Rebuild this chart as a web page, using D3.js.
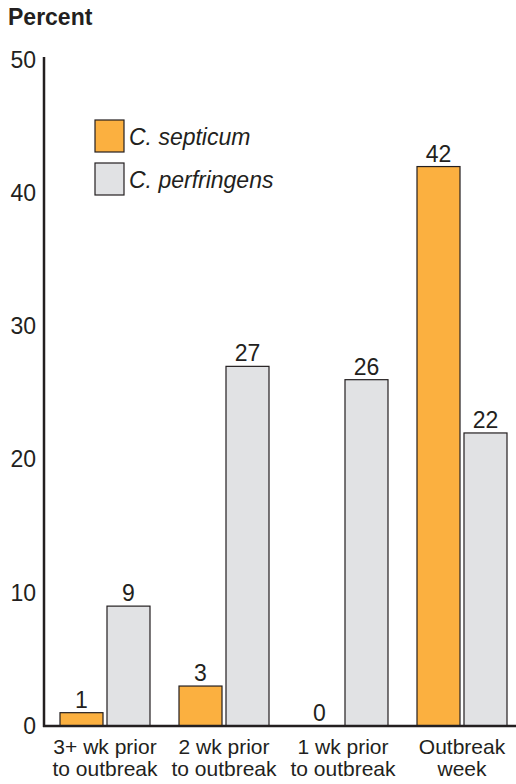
<!DOCTYPE html>
<html><head><meta charset="utf-8">
<script src="https://cdn.jsdelivr.net/npm/d3@7"></script>
<style>body{margin:0;background:#fff}svg{display:block}text{font-family:"Liberation Sans",Arial,sans-serif;fill:#231f20}</style>
</head><body>
<svg id="chart" width="516" height="784"></svg>
<script>
const categories = [["3+ wk prior","to outbreak"],["2 wk prior","to outbreak"],["1 wk prior","to outbreak"],["Outbreak","week"]];
const seriesNames = ["C. septicum","C. perfringens"];
const septicum = [1,3,0,42];
const perfringens = [9,27,26,22];
const yTicks = [0,10,20,30,40,50];
const colors = ["#fbb040","#e1e2e4"];

const svg = d3.select("#chart");
const catKeys = categories.map((c,i)=>i);
const x0 = d3.scaleBand().domain(catKeys).range([60,507]).paddingInner(0.2437).paddingOuter(0);
const x1 = d3.scaleBand().domain([0,1]).range([0,x0.bandwidth()]).paddingInner(0.085).paddingOuter(0);
const y = d3.scaleLinear().domain([0,50]).range([726,60]);

// y axis
const ya = svg.append("g").attr("transform","translate(44,0)")
  .call(d3.axisLeft(y).tickValues(yTicks).tickSize(0).tickSizeOuter(0).tickPadding(8));
ya.select(".domain").attr("stroke","#231f20").attr("stroke-width",2.5).attr("d","M0,"+(y(0)+1)+"V57");
ya.selectAll("text").style("font-size","23px").style("font-family","'Liberation Sans',Arial,sans-serif").attr("fill","#231f20");

// title
svg.append("text").attr("x",8).attr("y",25).text("Percent").style("font-size","23px").style("font-weight","bold");

const data = categories.map((c,i)=>({i, vals:[septicum[i], perfringens[i]]}));
const g = svg.append("g");
const grp = g.selectAll("g.grp").data(data).join("g").attr("transform",d=>`translate(${x0(d.i)},0)`);
grp.selectAll("rect").data(d=>d.vals.map((v,k)=>({v,k}))).join("rect")
  .attr("x",d=>x1(d.k)).attr("width",x1.bandwidth())
  .attr("y",d=>y(d.v)).attr("height",d=>y(0)-y(d.v))
  .attr("fill",d=>colors[d.k]).attr("stroke","#231f20").attr("stroke-width",1.2);
grp.selectAll("text.val").data(d=>d.vals.map((v,k)=>({v,k}))).join("text").attr("class","val")
  .attr("x",d=>x1(d.k)+x1.bandwidth()/2).attr("y",d=>y(d.v)-5)
  .attr("text-anchor","middle").style("font-size","23px").text(d=>d.v);

// baseline
svg.append("line").attr("x1",43).attr("x2",516).attr("y1",y(0)).attr("y2",y(0)).attr("stroke","#231f20").attr("stroke-width",2.5);

// x axis labels
const xa = svg.append("g").attr("transform",`translate(0,${y(0)})`)
  .call(d3.axisBottom(x0).tickSize(0).tickFormat(()=>""));
xa.select(".domain").remove();
xa.selectAll(".tick text").each(function(d){
  const t = d3.select(this).attr("y",28).attr("dy",0).style("font-size","21px").style("font-family","'Liberation Sans',Arial,sans-serif").attr("fill","#231f20");
  categories[d].forEach((line,j)=>t.append("tspan").attr("x",0).attr("dy",j===0?0:22).text(line));
});

// legend
const leg = svg.append("g");
seriesNames.forEach((n,k)=>{
  leg.append("rect").attr("x",95).attr("y",120+k*43).attr("width",29).attr("height",32)
    .attr("fill",colors[k]).attr("stroke","#231f20").attr("stroke-width",1.2);
  leg.append("text").attr("x",129).attr("y",145+k*43).style("font-size","23px").style("font-style","italic").text(n);
});
</script>
</body></html>
